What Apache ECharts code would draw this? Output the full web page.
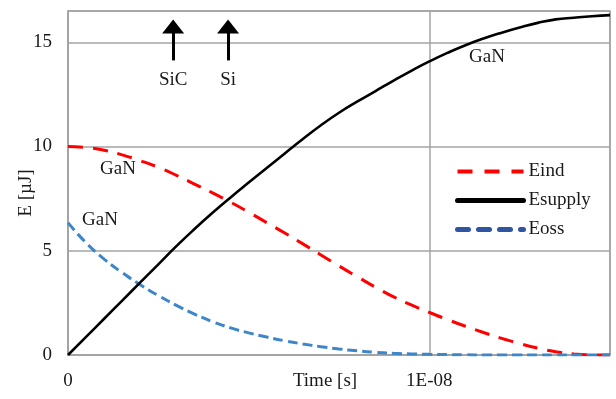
<!DOCTYPE html>
<html>
<head>
<meta charset="utf-8">
<script src="https://cdn.jsdelivr.net/npm/echarts@6/dist/echarts.min.js"></script>
<style>
  html, body { margin: 0; padding: 0; background: #fff; }
  #chart { width: 616px; height: 399px; }
</style>
</head>
<body>
<div id="chart"></div>
<script>
// Switching-energy traces, sampled every 0.5 ns
const timeNs = [0, 0.5, 1, 1.5, 2, 2.5, 3, 3.5, 4, 4.5, 5, 5.5, 6, 6.5, 7, 7.5,
  8, 8.5, 9, 9.5, 10, 10.5, 11, 11.5, 12, 12.5, 13, 13.5, 14, 14.5, 15];
const eInd = [10, 9.95, 9.82, 9.6, 9.32, 9.0, 8.62, 8.2, 7.78, 7.33, 6.85, 6.35, 5.85, 5.33, 4.8, 4.27,
  3.76, 3.26, 2.8, 2.4, 2.04, 1.7, 1.38, 1.08, 0.8, 0.55, 0.33, 0.16, 0.05, 0.01, 0];
const eSupply = [0, 0.87, 1.74, 2.61, 3.48, 4.35, 5.22, 6.04, 6.82, 7.56, 8.27, 8.97, 9.67, 10.36, 11.02, 11.62,
  12.15, 12.65, 13.15, 13.63, 14.08, 14.49, 14.86, 15.18, 15.46, 15.71, 15.93, 16.1, 16.18, 16.25, 16.3];
const eOss = [6.35, 5.38, 4.6, 3.95, 3.37, 2.85, 2.38, 1.96, 1.6, 1.3, 1.06, 0.86, 0.68, 0.53, 0.4, 0.29,
  0.2, 0.13, 0.08, 0.05, 0.03, 0.02, 0.01, 0, 0, 0, 0, 0, 0, 0, 0];
const seriesNames = ['Eind', 'Esupply', 'Eoss'];
const yTicks = [0, 5, 10, 15];
// Device markers: time at which each technology finishes the transition (s)
const deviceMarks = [
  { name: 'SiC', t: 2.91e-9 },
  { name: 'Si', t: 4.43e-9 }
];

const FONT = '"Liberation Serif", "DejaVu Serif", serif';
const TEXT = '#1a1a1a';
const GRID = '#a3a3a3';

const toSec = ns => ns * 1e-9;
const pairs = vals => timeNs.map((t, i) => [toSec(t), vals[i]]);

// Excel-style scientific label, e.g. 1E-08
function sciLabel(v) {
  if (v === 0) return '0';
  const exp = Math.floor(Math.log10(Math.abs(v)) + 1e-9);
  const mant = Math.round(v / Math.pow(10, exp));
  const sign = exp < 0 ? '-' : '+';
  const e = String(Math.abs(exp)).padStart(2, '0');
  return mant + 'E' + sign + e;
}

const chart = echarts.init(document.getElementById('chart'), null, { renderer: 'canvas' });

chart.setOption({
  animation: false,
  backgroundColor: '#fff',
  textStyle: { fontFamily: FONT, color: TEXT },
  grid: {
    left: 68, right: 6, top: 11, bottom: 44,
    containLabel: false,
    outerBoundsMode: 'none',
    show: true, borderColor: GRID, borderWidth: 1.5, backgroundColor: 'transparent'
  },
  xAxis: {
    type: 'value',
    min: 0, max: 1.5e-8, interval: 1e-8,
    name: 'Time [s]',
    nameLocation: 'middle',
    nameGap: 17,
    nameMoveOverlap: false,
    nameTextStyle: { fontFamily: FONT, fontSize: 19, color: TEXT, padding: [0, 28, 0, 0] },
    axisLine: { show: true, lineStyle: { color: GRID, width: 1.5 } },
    axisTick: { show: false },
    splitLine: { show: true, lineStyle: { color: GRID, width: 1.5 } },
    axisLabel: {
      fontFamily: FONT, fontSize: 19, color: TEXT, margin: 17,
      showMaxLabel: false,
      formatter: sciLabel
    }
  },
  yAxis: {
    type: 'value',
    min: 0, max: 16.5, interval: 5,
    name: 'E [µJ]',
    nameLocation: 'middle',
    nameGap: 32,
    nameRotate: 90,
    nameMoveOverlap: false,
    nameTextStyle: { fontFamily: FONT, fontSize: 19, color: TEXT, padding: [0, 20, 0, 0] },
    axisLine: { show: true, lineStyle: { color: GRID, width: 1.5 } },
    axisTick: { show: false },
    splitLine: { show: true, lineStyle: { color: GRID, width: 1.5 } },
    axisLabel: {
      fontFamily: FONT, fontSize: 19, color: TEXT, margin: 16,
      showMaxLabel: false,
      formatter: v => (yTicks.includes(v) ? String(v) : '')
    }
  },
  legend: {
    orient: 'vertical',
    left: 455, top: 162,
    padding: 0,
    itemWidth: 66, itemHeight: 14, itemGap: 10,
    textStyle: { fontFamily: FONT, fontSize: 19, color: TEXT },
    data: [
      { name: seriesNames[0], lineStyle: { width: 4, type: [15, 12] }, itemStyle: { opacity: 0 } },
      { name: seriesNames[1], lineStyle: { width: 5, cap: 'round' }, itemStyle: { opacity: 0 } },
      { name: seriesNames[2], lineStyle: { width: 5, color: '#2f55a0', type: [11, 10], cap: 'round' }, itemStyle: { opacity: 0 } }
    ]
  },
  series: [
    {
      name: seriesNames[0], type: 'line', data: pairs(eInd),
      smooth: 0.5, showSymbol: false, symbol: 'none',
      lineStyle: { color: '#ff0000', width: 3, type: [15, 10] },
      itemStyle: { color: '#ff0000' },
      z: 3
    },
    {
      name: seriesNames[1], type: 'line', data: pairs(eSupply),
      smooth: 0.5, showSymbol: false, symbol: 'none',
      lineStyle: { color: '#000', width: 2.6 },
      itemStyle: { color: '#000' },
      z: 4,
      markLine: {
        silent: true,
        symbol: ['none', 'triangle'],
        symbolSize: [22, 14],
        lineStyle: { color: '#000', width: 3, type: 'solid' },
        label: {
          show: true, position: 'start', distance: 10,
          fontFamily: FONT, fontSize: 19, color: TEXT,
          formatter: p => p.name
        },
        data: deviceMarks.map(m => [
          { name: m.name, coord: [m.t, 14.13] },
          { coord: [m.t, 15.76] }
        ])
      }
    },
    {
      name: seriesNames[2], type: 'line', data: pairs(eOss),
      smooth: 0.5, showSymbol: false, symbol: 'none',
      lineStyle: { color: '#3d87c9', width: 3, type: [10, 5] },
      itemStyle: { color: '#2f55a0' },
      z: 3
    }
  ],
  graphic: [
    { type: 'text', x: 118, y: 169, style: { text: 'GaN', font: '19px ' + FONT, fill: TEXT, align: 'center', verticalAlign: 'middle' } },
    { type: 'text', x: 100, y: 220, style: { text: 'GaN', font: '19px ' + FONT, fill: TEXT, align: 'center', verticalAlign: 'middle' } },
    { type: 'text', x: 487, y: 57, style: { text: 'GaN', font: '19px ' + FONT, fill: TEXT, align: 'center', verticalAlign: 'middle' } }
  ]
});
</script>
</body>
</html>
